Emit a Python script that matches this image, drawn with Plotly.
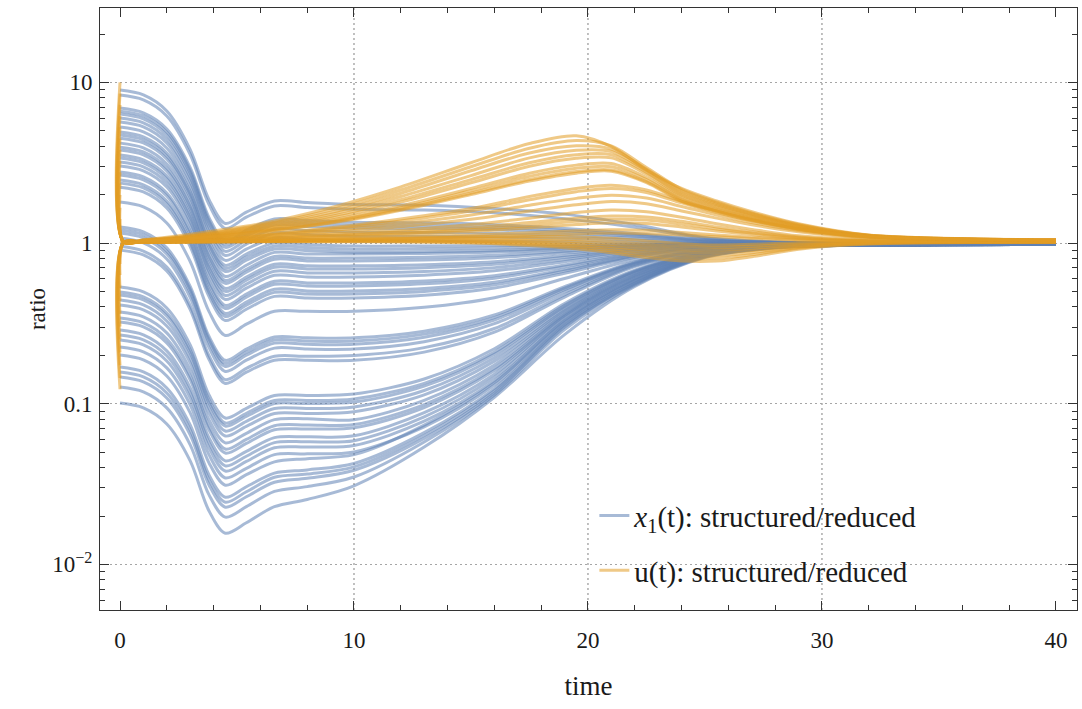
import plotly.graph_objects as go

# ---------------------------------------------------------------------------
# Data: log10 of the ratio structured/reduced, one row per parameter set.
# ---------------------------------------------------------------------------

# sample times of the x1(t) ratio curves
t_x1 = [0, 1, 2, 3, 3.8, 4.5, 5.4, 6.6, 8, 10, 13, 16, 19, 22, 25, 28, 32, 40]

# x1 ratio, parameter sets starting well above 1
x1_above = [
    [0.952, 0.922, 0.822, 0.582, 0.272, 0.122, 0.192, 0.262, 0.252, 0.240, 0.236, 0.215, 0.180, 0.115, 0.035, 0.008, -0.002, -0.006],
    [0.921, 0.891, 0.791, 0.551, 0.241, 0.091, 0.161, 0.231, 0.221, 0.210, 0.205, 0.188, 0.152, 0.098, 0.032, 0.007, -0.002, -0.006],
    [0.840, 0.810, 0.710, 0.470, 0.160, 0.010, 0.080, 0.150, 0.140, 0.130, 0.126, 0.114, 0.091, 0.059, 0.021, 0.005, -0.003, -0.006],
    [0.821, 0.791, 0.691, 0.451, 0.141, -0.009, 0.061, 0.131, 0.121, 0.111, 0.108, 0.098, 0.078, 0.050, 0.018, 0.004, -0.003, -0.006],
    [0.803, 0.773, 0.673, 0.433, 0.123, -0.027, 0.043, 0.113, 0.103, 0.093, 0.090, 0.082, 0.065, 0.042, 0.015, 0.004, -0.003, -0.006],
    [0.778, 0.748, 0.648, 0.408, 0.098, -0.052, 0.018, 0.088, 0.078, 0.068, 0.066, 0.060, 0.048, 0.031, 0.011, 0.003, -0.004, -0.007],
    [0.753, 0.723, 0.623, 0.383, 0.073, -0.077, -0.007, 0.063, 0.053, 0.043, 0.042, 0.038, 0.030, 0.019, 0.007, 0.002, -0.004, -0.007],
    [0.722, 0.692, 0.592, 0.352, 0.042, -0.108, -0.038, 0.032, 0.022, 0.012, 0.012, 0.010, 0.008, 0.005, 0.002, 0.000, -0.005, -0.007],
    [0.691, 0.661, 0.561, 0.321, 0.011, -0.139, -0.069, 0.001, -0.009, -0.019, -0.018, -0.016, -0.011, -0.006, -0.004, -0.004, -0.006, -0.008],
    [0.672, 0.642, 0.542, 0.302, -0.008, -0.158, -0.088, -0.018, -0.028, -0.038, -0.036, -0.031, -0.021, -0.010, -0.004, -0.003, -0.006, -0.008],
    [0.653, 0.623, 0.523, 0.283, -0.027, -0.177, -0.107, -0.037, -0.047, -0.057, -0.054, -0.047, -0.031, -0.015, -0.006, -0.003, -0.006, -0.008],
]

# x1 ratio, parameter sets starting between about 1 and 4
x1_middle = [
    [0.622, 0.592, 0.492, 0.252, -0.058, -0.208, -0.138, -0.058, -0.068, -0.068, -0.065, -0.056, -0.037, -0.018, -0.006, -0.003, -0.006, -0.008],
    [0.597, 0.567, 0.467, 0.227, -0.083, -0.233, -0.163, -0.083, -0.093, -0.093, -0.088, -0.076, -0.051, -0.024, -0.008, -0.003, -0.006, -0.008],
    [0.579, 0.549, 0.449, 0.209, -0.101, -0.251, -0.181, -0.101, -0.111, -0.111, -0.105, -0.091, -0.061, -0.029, -0.010, -0.004, -0.006, -0.008],
    [0.548, 0.518, 0.418, 0.178, -0.132, -0.282, -0.212, -0.132, -0.142, -0.142, -0.135, -0.116, -0.078, -0.037, -0.013, -0.004, -0.006, -0.008],
    [0.529, 0.499, 0.399, 0.159, -0.151, -0.301, -0.231, -0.151, -0.161, -0.161, -0.153, -0.132, -0.089, -0.042, -0.014, -0.005, -0.006, -0.008],
    [0.504, 0.474, 0.374, 0.134, -0.176, -0.326, -0.256, -0.176, -0.186, -0.186, -0.177, -0.153, -0.102, -0.048, -0.017, -0.006, -0.007, -0.008],
    [0.479, 0.449, 0.349, 0.109, -0.201, -0.351, -0.281, -0.201, -0.211, -0.211, -0.200, -0.173, -0.116, -0.055, -0.019, -0.006, -0.007, -0.008],
    [0.442, 0.412, 0.312, 0.072, -0.238, -0.388, -0.318, -0.238, -0.248, -0.248, -0.236, -0.203, -0.136, -0.064, -0.022, -0.007, -0.007, -0.008],
    [0.423, 0.393, 0.293, 0.053, -0.257, -0.407, -0.337, -0.257, -0.267, -0.267, -0.254, -0.219, -0.147, -0.069, -0.024, -0.008, -0.007, -0.008],
    [0.392, 0.362, 0.262, 0.022, -0.288, -0.438, -0.368, -0.288, -0.298, -0.298, -0.283, -0.244, -0.164, -0.077, -0.027, -0.009, -0.008, -0.008],
    [0.373, 0.343, 0.243, 0.003, -0.307, -0.457, -0.387, -0.307, -0.317, -0.317, -0.301, -0.260, -0.174, -0.082, -0.029, -0.010, -0.008, -0.008],
    [0.348, 0.318, 0.218, -0.022, -0.332, -0.482, -0.412, -0.332, -0.342, -0.342, -0.325, -0.280, -0.188, -0.089, -0.031, -0.010, -0.008, -0.008],
    [0.255, 0.225, 0.125, -0.115, -0.425, -0.575, -0.505, -0.425, -0.425, -0.425, -0.400, -0.340, -0.221, -0.102, -0.034, -0.011, -0.009, -0.008],
    [0.100, 0.070, -0.030, -0.270, -0.580, -0.730, -0.660, -0.585, -0.590, -0.590, -0.549, -0.448, -0.271, -0.118, -0.041, -0.012, -0.010, -0.008],
    [0.081, 0.051, -0.049, -0.289, -0.599, -0.749, -0.679, -0.604, -0.610, -0.610, -0.567, -0.464, -0.281, -0.122, -0.043, -0.012, -0.010, -0.008],
    [0.062, 0.032, -0.068, -0.308, -0.618, -0.768, -0.698, -0.623, -0.630, -0.630, -0.586, -0.479, -0.290, -0.126, -0.044, -0.013, -0.010, -0.008],
    [0.031, 0.001, -0.099, -0.339, -0.649, -0.799, -0.729, -0.654, -0.660, -0.660, -0.614, -0.502, -0.304, -0.132, -0.046, -0.013, -0.010, -0.008],
    [-0.020, -0.050, -0.150, -0.390, -0.700, -0.850, -0.780, -0.705, -0.705, -0.700, -0.651, -0.532, -0.322, -0.140, -0.049, -0.014, -0.010, -0.008],
    [-0.044, -0.074, -0.174, -0.414, -0.724, -0.874, -0.804, -0.729, -0.730, -0.730, -0.679, -0.555, -0.336, -0.146, -0.051, -0.015, -0.010, -0.008],
]

# x1 ratio, parameter sets starting below 1
x1_below = [
    [-0.274, -0.304, -0.404, -0.634, -0.944, -1.089, -1.029, -0.949, -0.949, -0.940, -0.846, -0.658, -0.376, -0.169, -0.056, -0.019, -0.012, -0.008],
    [-0.305, -0.335, -0.435, -0.665, -0.975, -1.120, -1.060, -0.980, -0.980, -0.970, -0.873, -0.679, -0.388, -0.175, -0.058, -0.019, -0.012, -0.008],
    [-0.324, -0.354, -0.454, -0.684, -0.994, -1.139, -1.079, -0.999, -0.999, -0.990, -0.891, -0.693, -0.396, -0.178, -0.059, -0.020, -0.012, -0.008],
    [-0.355, -0.385, -0.485, -0.715, -1.025, -1.170, -1.110, -1.030, -1.030, -1.020, -0.918, -0.714, -0.408, -0.184, -0.061, -0.020, -0.012, -0.008],
    [-0.386, -0.416, -0.516, -0.746, -1.056, -1.201, -1.141, -1.061, -1.061, -1.050, -0.945, -0.735, -0.420, -0.189, -0.063, -0.021, -0.012, -0.008],
    [-0.429, -0.459, -0.559, -0.789, -1.099, -1.244, -1.184, -1.099, -1.094, -1.100, -0.979, -0.759, -0.429, -0.198, -0.066, -0.022, -0.012, -0.008],
    [-0.467, -0.497, -0.597, -0.827, -1.137, -1.282, -1.222, -1.137, -1.132, -1.130, -1.006, -0.780, -0.441, -0.203, -0.068, -0.023, -0.012, -0.008],
    [-0.492, -0.522, -0.622, -0.852, -1.162, -1.307, -1.247, -1.162, -1.157, -1.150, -1.024, -0.794, -0.449, -0.207, -0.069, -0.023, -0.012, -0.008],
    [-0.541, -0.571, -0.671, -0.901, -1.211, -1.356, -1.296, -1.211, -1.206, -1.200, -1.056, -0.816, -0.456, -0.216, -0.072, -0.024, -0.012, -0.008],
    [-0.572, -0.602, -0.702, -0.932, -1.242, -1.387, -1.327, -1.242, -1.237, -1.230, -1.082, -0.836, -0.467, -0.221, -0.074, -0.025, -0.012, -0.008],
    [-0.604, -0.634, -0.734, -0.964, -1.274, -1.419, -1.359, -1.274, -1.269, -1.260, -1.109, -0.857, -0.479, -0.227, -0.076, -0.025, -0.012, -0.008],
    [-0.647, -0.677, -0.777, -1.007, -1.317, -1.462, -1.402, -1.317, -1.312, -1.300, -1.144, -0.884, -0.494, -0.234, -0.078, -0.026, -0.012, -0.008],
    [-0.697, -0.727, -0.827, -1.057, -1.367, -1.507, -1.442, -1.362, -1.342, -1.317, -1.133, -0.869, -0.487, -0.237, -0.079, -0.026, -0.012, -0.008],
    [-0.772, -0.802, -0.902, -1.132, -1.442, -1.582, -1.517, -1.432, -1.412, -1.372, -1.180, -0.906, -0.508, -0.247, -0.082, -0.027, -0.012, -0.008],
    [-0.803, -0.833, -0.933, -1.163, -1.473, -1.613, -1.548, -1.458, -1.438, -1.393, -1.198, -0.919, -0.515, -0.251, -0.084, -0.028, -0.012, -0.008],
    [-0.834, -0.864, -0.964, -1.194, -1.504, -1.644, -1.579, -1.489, -1.464, -1.414, -1.216, -0.933, -0.523, -0.255, -0.085, -0.028, -0.012, -0.008],
    [-0.896, -0.926, -1.026, -1.256, -1.566, -1.706, -1.641, -1.546, -1.516, -1.456, -1.238, -0.946, -0.539, -0.262, -0.087, -0.029, -0.012, -0.008],
    [-0.996, -1.026, -1.126, -1.356, -1.666, -1.806, -1.741, -1.641, -1.596, -1.511, -1.270, -0.960, -0.570, -0.270, -0.090, -0.030, -0.012, -0.008],
]

# sample times of the u(t) ratio curves
t_u = [0, 0.15, 1, 3, 6, 9, 12, 15, 17.5, 19.5, 21, 22.5, 24, 25.5, 27, 29, 32, 40]

# u ratio, strongly peaked around t = 20
u_peaked = [
    [1.000, 0.010, 0.020, 0.055, 0.120, 0.220, 0.350, 0.500, 0.620, 0.668, 0.600, 0.455, 0.340, 0.262, 0.195, 0.120, 0.050, 0.020],
    [0.930, 0.010, 0.019, 0.046, 0.112, 0.205, 0.330, 0.475, 0.590, 0.638, 0.605, 0.470, 0.335, 0.255, 0.188, 0.116, 0.049, 0.020],
    [0.860, 0.010, 0.018, 0.043, 0.105, 0.190, 0.310, 0.450, 0.560, 0.605, 0.585, 0.460, 0.325, 0.247, 0.182, 0.112, 0.048, 0.019],
    [0.790, 0.009, 0.017, 0.040, 0.098, 0.178, 0.290, 0.420, 0.530, 0.578, 0.570, 0.450, 0.315, 0.240, 0.177, 0.108, 0.047, 0.019],
    [0.720, 0.009, 0.016, 0.037, 0.090, 0.165, 0.270, 0.395, 0.500, 0.550, 0.550, 0.440, 0.305, 0.232, 0.171, 0.104, 0.046, 0.019],
    [0.650, 0.009, 0.015, 0.035, 0.085, 0.155, 0.255, 0.375, 0.478, 0.528, 0.530, 0.428, 0.296, 0.224, 0.165, 0.100, 0.044, 0.018],
    [0.580, 0.008, 0.014, 0.032, 0.078, 0.142, 0.232, 0.340, 0.435, 0.485, 0.495, 0.408, 0.284, 0.214, 0.158, 0.096, 0.042, 0.018],
    [0.510, 0.008, 0.013, 0.030, 0.073, 0.135, 0.220, 0.325, 0.415, 0.465, 0.475, 0.395, 0.275, 0.207, 0.152, 0.092, 0.041, 0.018],
    [0.440, 0.008, 0.013, 0.029, 0.070, 0.128, 0.210, 0.310, 0.395, 0.445, 0.455, 0.382, 0.266, 0.200, 0.147, 0.089, 0.040, 0.017],
    [0.370, 0.007, 0.012, 0.028, 0.067, 0.124, 0.204, 0.302, 0.386, 0.435, 0.447, 0.376, 0.260, 0.195, 0.143, 0.087, 0.039, 0.017],
]

# u ratio, moderate hump peaking around t = 21
u_moderate = [
    [0.300, 0.007, 0.011, 0.024, 0.055, 0.095, 0.150, 0.215, 0.290, 0.340, 0.360, 0.330, 0.260, 0.200, 0.145, 0.088, 0.038, 0.016],
    [0.220, 0.006, 0.010, 0.022, 0.050, 0.088, 0.138, 0.200, 0.270, 0.320, 0.340, 0.315, 0.250, 0.190, 0.138, 0.084, 0.036, 0.015],
    [0.150, 0.006, 0.010, 0.020, 0.045, 0.078, 0.120, 0.175, 0.235, 0.278, 0.298, 0.280, 0.228, 0.175, 0.128, 0.078, 0.034, 0.015],
    [0.080, 0.005, 0.009, 0.018, 0.040, 0.068, 0.102, 0.148, 0.200, 0.238, 0.258, 0.245, 0.200, 0.155, 0.114, 0.070, 0.031, 0.014],
    [0.010, 0.005, 0.008, 0.016, 0.035, 0.055, 0.080, 0.115, 0.155, 0.190, 0.205, 0.195, 0.160, 0.120, 0.085, 0.045, 0.018, 0.010],
    [-0.060, 0.004, 0.008, 0.015, 0.030, 0.048, 0.068, 0.095, 0.128, 0.155, 0.168, 0.162, 0.135, 0.100, 0.070, 0.038, 0.015, 0.010],
    [-0.130, 0.004, 0.007, 0.013, 0.027, 0.042, 0.060, 0.083, 0.110, 0.135, 0.148, 0.143, 0.118, 0.088, 0.062, 0.033, 0.014, 0.009],
    [-0.200, 0.003, 0.006, 0.012, 0.024, 0.036, 0.052, 0.072, 0.095, 0.115, 0.126, 0.122, 0.100, 0.075, 0.053, 0.029, 0.012, 0.009],
    [-0.280, 0.002, 0.005, 0.010, 0.018, 0.026, 0.036, 0.050, 0.064, 0.076, 0.083, 0.080, 0.066, 0.050, 0.036, 0.021, 0.010, 0.008],
    [-0.360, 0.002, 0.004, 0.008, 0.014, 0.020, 0.028, 0.038, 0.048, 0.057, 0.062, 0.060, 0.050, 0.039, 0.029, 0.018, 0.010, 0.008],
]

# u ratio, staying near 1 with a shallow dip around t = 25
u_flat = [
    [-0.440, 0.000, 0.004, 0.006, 0.008, 0.008, 0.006, 0.000, -0.015, -0.035, -0.060, -0.090, -0.112, -0.112, -0.085, -0.038, -0.006, 0.005],
    [-0.520, 0.000, 0.004, 0.006, 0.009, 0.010, 0.009, 0.004, -0.008, -0.025, -0.048, -0.075, -0.095, -0.095, -0.072, -0.032, -0.004, 0.005],
    [-0.600, 0.001, 0.005, 0.007, 0.010, 0.012, 0.012, 0.009, 0.000, -0.015, -0.035, -0.058, -0.076, -0.078, -0.060, -0.027, -0.002, 0.006],
    [-0.680, 0.001, 0.005, 0.008, 0.011, 0.014, 0.015, 0.014, 0.008, -0.004, -0.022, -0.042, -0.058, -0.060, -0.046, -0.020, 0.000, 0.006],
    [-0.760, 0.002, 0.005, 0.008, 0.012, 0.016, 0.019, 0.020, 0.017, 0.008, -0.007, -0.025, -0.040, -0.043, -0.033, -0.013, 0.003, 0.007],
    [-0.840, 0.002, 0.006, 0.009, 0.014, 0.019, 0.024, 0.028, 0.028, 0.022, 0.010, -0.007, -0.022, -0.027, -0.020, -0.006, 0.005, 0.007],
    [-0.910, 0.003, 0.006, 0.010, 0.016, 0.023, 0.030, 0.037, 0.040, 0.038, 0.030, 0.013, -0.004, -0.012, -0.008, 0.001, 0.007, 0.008],
]

# axis ticks and grid positions
x_ticks = [0, 10, 20, 30, 40]
x_grid = [10, 20, 30]
y_ticks = [0.01, 0.1, 1, 10]
y_tick_text = ["10<sup>\u22122</sup>", "0.1", "1", "10"]
y_minor = [m * d for d in (0.001, 0.01, 0.1, 1, 10) for m in range(2, 10)]

# ---------------------------------------------------------------------------
BLUE = "rgba(94,129,181,0.55)"
ORANGE = "rgba(225,156,36,0.55)"
SERIF = "Liberation Serif"
TEXT = "#1a1a1a"

fig = go.Figure()


def add_family(times, rows, color, group, name, first):
    for i, row in enumerate(rows):
        fig.add_trace(go.Scatter(
            x=times,
            y=[10 ** v for v in row],
            mode="lines",
            line=dict(color=color, width=3, shape="spline", smoothing=0.9),
            name=name,
            legendgroup=group,
            showlegend=first and i == 0,
            hoverinfo="skip",
        ))


x1_name = "<i>x</i><sub>1</sub>(t): structured/reduced"
u_name = "u(t): structured/reduced"

add_family(t_x1, x1_above, BLUE, "x1", x1_name, True)
add_family(t_x1, x1_middle, BLUE, "x1", x1_name, False)
add_family(t_x1, x1_below, BLUE, "x1", x1_name, False)
add_family(t_u, u_flat, ORANGE, "u", u_name, True)
add_family(t_u, u_moderate, ORANGE, "u", u_name, False)
add_family(t_u, u_peaked, ORANGE, "u", u_name, False)

for gx in x_grid:
    fig.add_shape(type="line", xref="x", yref="paper", x0=gx, x1=gx, y0=0, y1=1,
                  line=dict(color="#a6a6a6", width=1.4, dash="2px,3px"), layer="below")

fig.update_xaxes(
    showline=True, linecolor="#333333", linewidth=1, mirror="allticks",
    ticks="inside", ticklen=9, tickwidth=1, tickcolor="#333333",
    zeroline=False,
    tickfont=dict(family=SERIF, size=23),
    range=[-0.855, 40.9],
    tickmode="array", tickvals=x_ticks,
    showgrid=False,
    minor=dict(dtick=2, tick0=0, ticks="inside", ticklen=5, tickcolor="#333333", showgrid=False),
    ticklabelstandoff=9,
    title=dict(text="time", font=dict(family=SERIF, size=27), standoff=24),
)

fig.update_yaxes(
    showline=True, linecolor="#333333", linewidth=1, mirror="allticks",
    ticks="inside", ticklen=9, tickwidth=1, tickcolor="#333333",
    zeroline=False,
    tickfont=dict(family=SERIF, size=23),
    type="log",
    range=[-2.284, 1.463],
    tickmode="array", tickvals=y_ticks, ticktext=y_tick_text,
    showgrid=True, gridcolor="#a6a6a6", gridwidth=1.4, griddash="2px,3px",
    minor=dict(tickmode="array", tickvals=y_minor, ticks="inside", ticklen=5,
               tickcolor="#333333", showgrid=False),
    ticklabelstandoff=2,
    title=dict(text="ratio", font=dict(family=SERIF, size=23), standoff=0),
)

fig.update_layout(
    width=1082, height=709,
    margin=dict(l=100, r=5, t=8, b=99),
    plot_bgcolor="white", paper_bgcolor="white",
    font=dict(family=SERIF, size=23, color=TEXT),
    showlegend=True,
    legend=dict(
        x=0.506, y=0.199, xanchor="left", yanchor="top",
        bgcolor="rgba(0,0,0,0)", borderwidth=0,
        font=dict(family=SERIF, size=29),
        tracegroupgap=14, traceorder="grouped",
    ),
)

fig.write_html("out.html")
